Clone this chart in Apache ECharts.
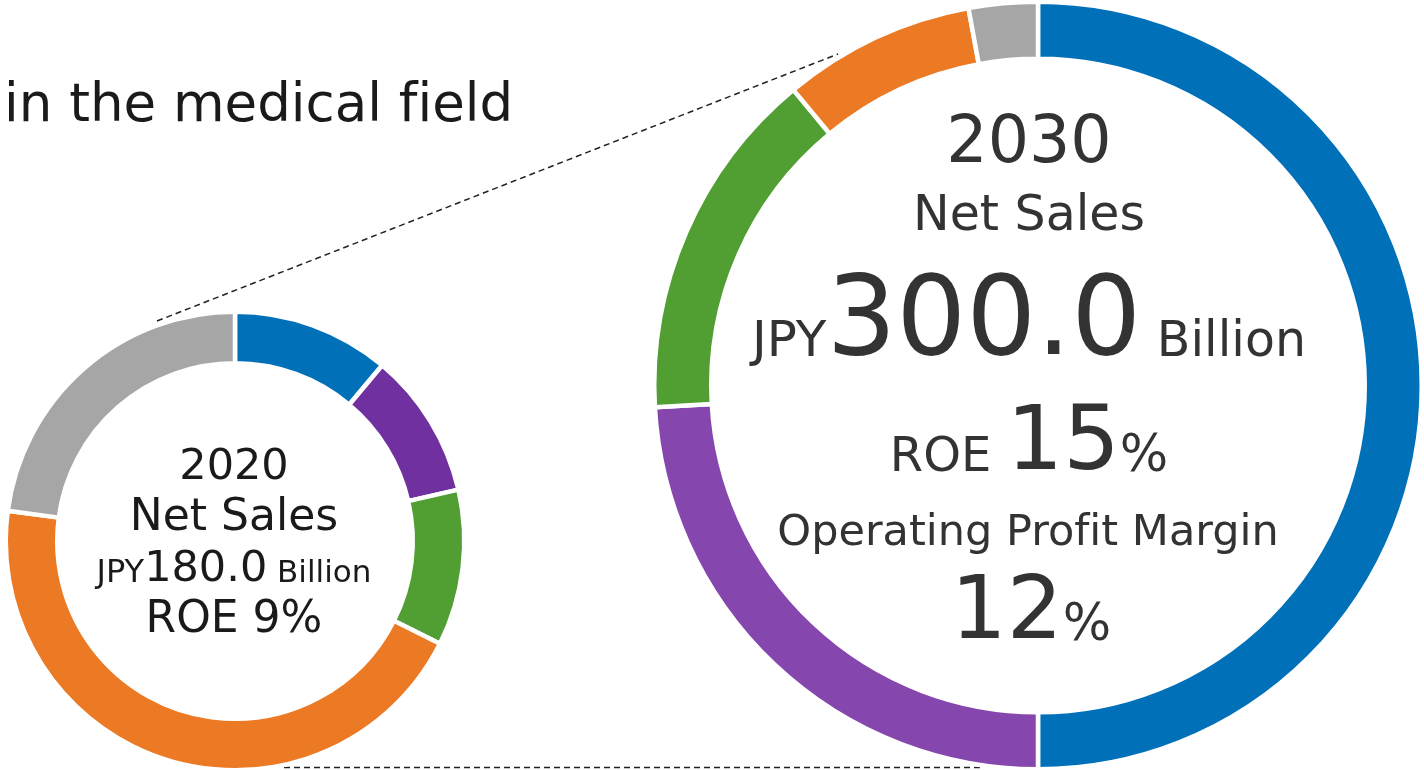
<!DOCTYPE html>
<html>
<head>
<meta charset="utf-8">
<style>
  html, body { margin: 0; padding: 0; background: #fff; }
  #main { width: 1424px; height: 770px; }
</style>
<script src="https://cdn.jsdelivr.net/npm/echarts@6/dist/echarts.min.js"></script>
</head>
<body>
<div id="main"></div>
<script>
// business segment shares (%), clockwise from 12 o'clock
const segments = ['Segment A', 'Segment B', 'Segment C', 'Segment D', 'Segment E']
const share2020 = [11.1, 10.3, 11.0, 44.7, 22.9]
const share2030 = [50.0, 24.1, 14.9, 8.1, 2.9]
const colors2020 = ['#0070b9', '#7030a0', '#519e33', '#ec7923', '#a6a6a6']
const colors2030 = ['#0070b9', '#8547ae', '#519e33', '#ec7923', '#a6a6a6']

// center texts (ZWNJ keeps "fi" from turning into a ligature)
const heading = 'in the medical f\u200Cield'
const text2020 = ['2020', 'Net Sales', 'JPY', '180.0', ' Billion', 'ROE 9%']
const text2030 = ['2030', 'Net Sales', 'JPY', '300.0', ' Billion', 'ROE ', '15', '%', 'Operating Prof\u200Cit Margin', '12', '%']

const FONT = '"DejaVu Sans", Verdana, sans-serif'
const MID = 0.30 // baseline sits this many em below the 'middle' anchor

const measureCtx = document.createElement('canvas').getContext('2d')
function textWidth(t, size) {
  measureCtx.font = size + 'px ' + FONT
  return measureCtx.measureText(t).width
}

/** one line of mixed-size text, centred on cx, sitting on baseline */
function textLine(parts, cx, baseline, color) {
  const total = parts.reduce((s, p) => s + textWidth(p[0], p[1]), 0)
  let x = cx - total / 2
  return parts.map(p => {
    const el = {
      type: 'text',
      x: x,
      y: baseline - MID * p[1],
      z: 10,
      silent: true,
      style: {
        text: p[0],
        font: p[1] + 'px ' + FONT,
        fill: color,
        align: 'left',
        textAlign: 'left',
        verticalAlign: 'middle',
        textVerticalAlign: 'middle'
      }
    }
    x += textWidth(p[0], p[1])
    return el
  })
}

function pieData(values, colors) {
  return values.map((v, i) => ({ name: segments[i], value: v, itemStyle: { color: colors[i] } }))
}

const chart = echarts.init(document.getElementById('main'), null, { renderer: 'canvas' })

const small = { cx: 235, cy: 541, r0: 180, r1: 227 }
const large = { cx: 1038, cy: 385.5, r0: 329, r1: 381.5 }
const gap = 4.5

const dark = '#1a1a1a'
const grey = '#333333'

let graphics = []
  .concat(textLine([[heading, 53]], 8 + textWidth(heading, 53) / 2 - 4, 123, dark))
  // 2020
  .concat(textLine([[text2020[0], 43]], 234, 481, dark))
  .concat(textLine([[text2020[1], 44]], 234, 532, dark))
  .concat(textLine([[text2020[2], 32], [text2020[3], 43], [text2020[4], 31]], 234, 583, dark))
  .concat(textLine([[text2020[5], 44]], 234, 634, dark))
  // 2030
  .concat(textLine([[text2030[0], 65]], 1029, 165, grey))
  .concat(textLine([[text2030[1], 49]], 1029, 232, grey))
  .concat(textLine([[text2030[2], 50], [text2030[3], 110], [text2030[4], 49]], 1029, 358, grey))
  .concat(textLine([[text2030[5], 48], [text2030[6], 89], [text2030[7], 51]], 1029, 473, grey))
  .concat(textLine([[text2030[8], 43]], 1028, 547, grey))
  .concat(textLine([[text2030[9], 88], [text2030[10], 51]], 1031, 642, grey))

// dashed connectors between the two rings
const dash = { stroke: '#222', lineWidth: 1.5, lineDash: [6, 4] }
graphics.push({ type: 'line', z: 0, silent: true, shape: { x1: 157, y1: 321, x2: 838, y2: 54 }, style: dash })
graphics.push({ type: 'line', z: 0, silent: true, shape: { x1: 284, y1: 767.5, x2: 982, y2: 767.5 }, style: dash })

function ring(geo, values, colors) {
  return {
    type: 'pie',
    center: [geo.cx, geo.cy],
    radius: [geo.r0 - gap / 2, geo.r1 + gap / 2],
    startAngle: 90,
    clockwise: true,
    silent: true,
    label: { show: false },
    labelLine: { show: false },
    itemStyle: { borderColor: '#fff', borderWidth: gap },
    data: pieData(values, colors)
  }
}

chart.setOption({
  animation: false,
  backgroundColor: '#fff',
  graphic: graphics,
  series: [
    ring(small, share2020, colors2020),
    ring(large, share2030, colors2030)
  ]
})
</script>
</body>
</html>
